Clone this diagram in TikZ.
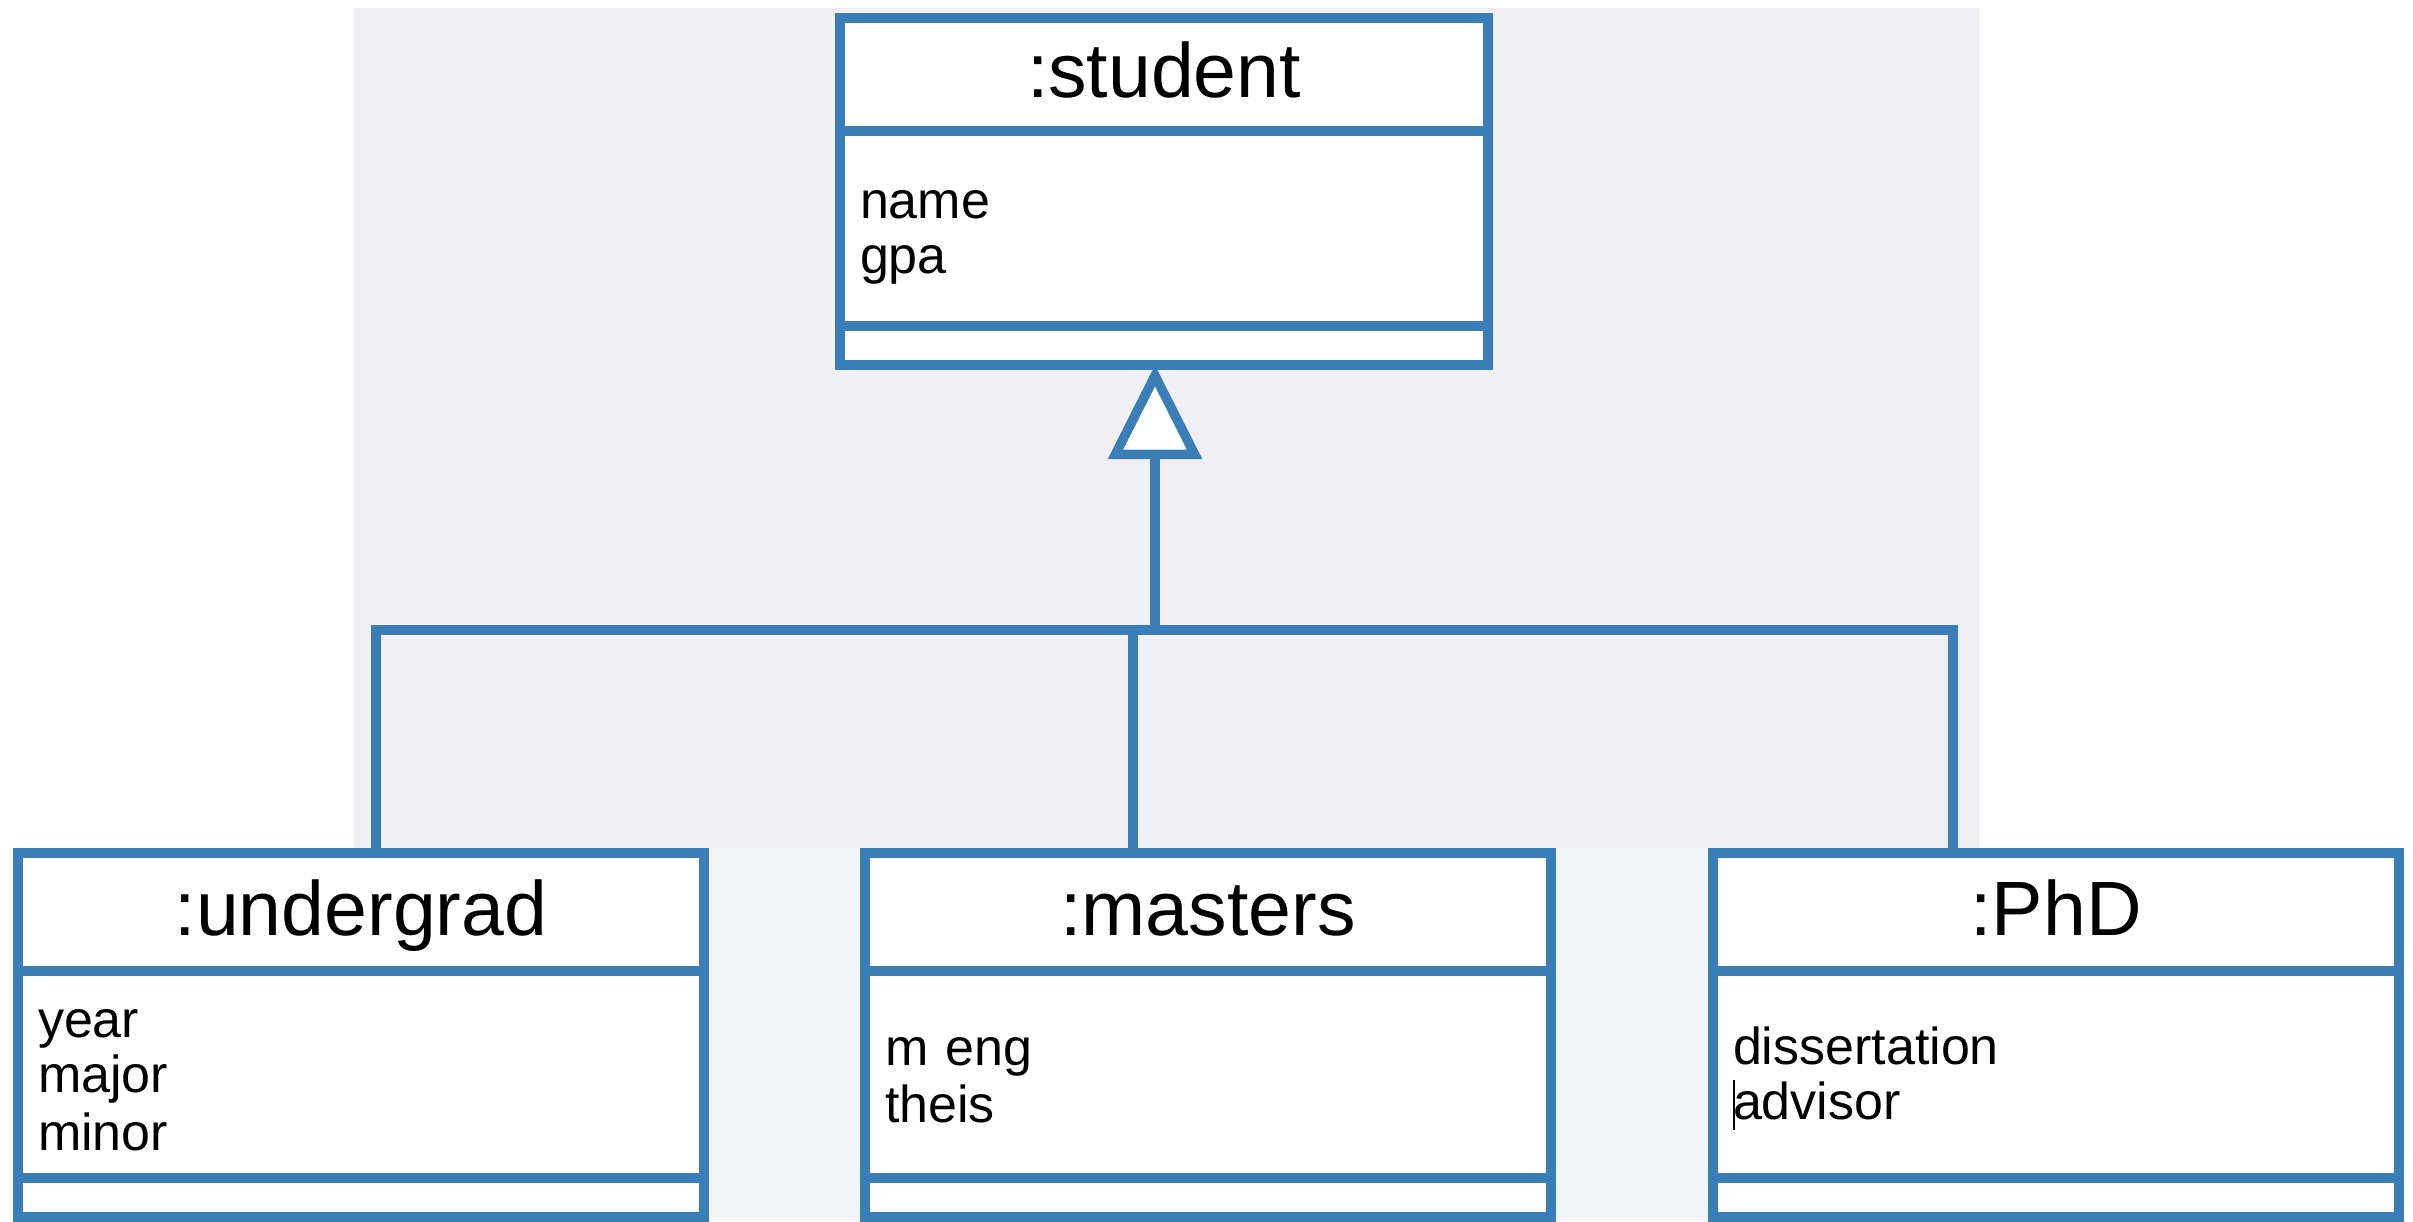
\documentclass[tikz,border=0pt]{standalone}
\usepackage{fontspec}
\setmainfont{Liberation Sans}
\usepackage{tikz}
\usetikzlibrary{arrows.meta, positioning}

\definecolor{umlblue}{RGB}{58,126,184}
\definecolor{panelgrey}{RGB}{240,240,244}
\definecolor{stripgrey}{RGB}{243,244,246}

\newcommand{\atstrut}{\rule[-3pt]{0pt}{25.5pt}}

\begin{document}
\begin{tikzpicture}[
    x=0.5pt, y=-0.5pt,
    every node/.style={outer sep=0pt},
    clsbox/.style={rectangle, draw=umlblue, line width=4.75pt, fill=white, inner sep=0pt},
    clshead/.style={clsbox, minimum height=59pt, text height=23pt, text depth=0pt, font=\fontsize{38.5}{40}\selectfont, align=center},
    clsattr/.style={clsbox, minimum height=103.5pt, inner xsep=10pt, align=left, font=\fontsize{26}{27.5}\selectfont,
        execute at begin node=\atstrut, execute at end node=\atstrut},
    clsops/.style={clsbox, minimum height=19.5pt},
    link/.style={draw=umlblue, line width=4.75pt},
    inherit/.style={link, -{Triangle[fill=white, length=47pt, width=46pt]}}
]
\useasboundingbox (0,0) rectangle (2413,1221);

% backdrop
\fill[panelgrey] (354,8) rectangle (1979,848);
\fill[stripgrey] (18,848) rectangle (2400,1221);

% superclass
\node[clshead, minimum width=324pt, minimum height=56.5pt, anchor=north] (student_head) at (1164,18) {:student};
\node[clsattr, text width=304pt, minimum height=97.5pt, below=0pt of student_head] (student_attr) {name\\gpa};
\node[clsops, minimum width=324pt, below=0pt of student_attr] (student_ops) {};

% subclasses
\node[clshead, minimum width=343pt, anchor=north] (ug_head) at (361,853) {:undergrad};
\node[clsattr, text width=323pt, below=0pt of ug_head] (ug_attr) {year\\major\\minor};
\node[clsops, minimum width=343pt, below=0pt of ug_attr] (ug_ops) {};

\node[clshead, minimum width=343pt, anchor=north] (ms_head) at (1208,853) {:masters};
\node[clsattr, text width=323pt, below=0pt of ms_head] (ms_attr) {m eng\\theis};
\node[clsops, minimum width=343pt, below=0pt of ms_attr] (ms_ops) {};

\node[clshead, minimum width=343pt, anchor=north] (phd_head) at (2056,853) {:PhD};
\node[clsattr, text width=323pt, below=0pt of phd_head] (phd_attr) {dissertation\\\makebox[0pt][l]{\rule[-0.2em]{1pt}{0.95em}}advisor};
\node[clsops, minimum width=343pt, below=0pt of phd_attr] (phd_ops) {};

% generalisation tree
\coordinate (bus_mid) at (1155,630);
\coordinate (drop_ug) at (376,0);
\coordinate (drop_ms) at (1133,0);
\coordinate (drop_phd) at (1953,0);

\draw[link] (drop_ug |- ug_head.north) |- (bus_mid) -| (drop_phd |- phd_head.north);
\draw[link] (bus_mid -| drop_ms) -- (drop_ms |- ms_head.north);
\draw[inherit] (bus_mid) -- (bus_mid |- student_ops.south);

\end{tikzpicture}
\end{document}
